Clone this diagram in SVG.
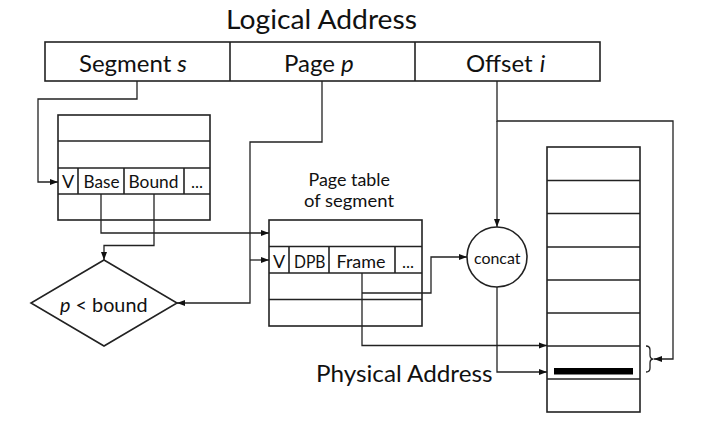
<svg xmlns="http://www.w3.org/2000/svg" width="724" height="431" viewBox="0 0 724 431">
<style>
.box{fill:#fff;stroke:#222;stroke-width:1.6}
.ln{fill:none;stroke:#222;stroke-width:1.6}
.cn{fill:none;stroke:#222;stroke-width:1.3}
.t{font-family:Lato,"Open Sans",sans-serif;fill:#111}
</style>
<defs>
<marker id="ah" viewBox="0 0 8 8" refX="8" refY="4" markerWidth="8" markerHeight="8" markerUnits="userSpaceOnUse" orient="auto">
<path d="M0,1 L8,4 L0,7 Z" fill="#111"/>
</marker>
</defs>
<rect width="724" height="431" fill="#fff"/>
<text class="t" x="226" y="29" font-size="27.5" textLength="191" lengthAdjust="spacingAndGlyphs">Logical Address</text>
<g id="logical-address">
<rect class="box" x="45" y="42" width="555" height="39"/>
<line class="ln" x1="230" y1="42" x2="230" y2="81"/>
<line class="ln" x1="415" y1="42" x2="415" y2="81"/>
<text class="t" x="79" y="72" font-size="24">Segment<tspan dx="6" font-style="italic">s</tspan></text>
<text class="t" x="284" y="72" font-size="24">Page<tspan dx="6" font-style="italic">p</tspan></text>
<text class="t" x="466" y="72" font-size="24">Offset<tspan dx="7" font-style="italic">i</tspan></text>
</g>
<g id="segment-table">
<rect class="box" x="58" y="115" width="152" height="105"/>
<line class="ln" x1="58" y1="141" x2="210" y2="141"/>
<line class="ln" x1="58" y1="168" x2="210" y2="168"/>
<line class="ln" x1="58" y1="194" x2="210" y2="194"/>
<line class="ln" x1="78" y1="168" x2="78" y2="194"/>
<line class="ln" x1="124" y1="168" x2="124" y2="194"/>
<line class="ln" x1="184" y1="168" x2="184" y2="194"/>
<text class="t" x="68" y="188" font-size="18" text-anchor="middle">V</text>
<text class="t" x="83.5" y="188" font-size="18" textLength="36" lengthAdjust="spacingAndGlyphs">Base</text>
<text class="t" x="128.5" y="188" font-size="18" textLength="50" lengthAdjust="spacingAndGlyphs">Bound</text>
<text class="t" x="197" y="188" font-size="17" text-anchor="middle">...</text>
</g>
<g id="page-table">
<text class="t" x="308.5" y="186" font-size="18" textLength="81.5" lengthAdjust="spacingAndGlyphs">Page table</text>
<text class="t" x="304" y="207" font-size="18" textLength="90" lengthAdjust="spacingAndGlyphs">of segment</text>
<rect class="box" x="269" y="220" width="153" height="106"/>
<line class="ln" x1="269" y1="246.5" x2="422" y2="246.5"/>
<line class="ln" x1="269" y1="273" x2="422" y2="273"/>
<line class="ln" x1="269" y1="299.5" x2="422" y2="299.5"/>
<line class="ln" x1="289" y1="246.5" x2="289" y2="273"/>
<line class="ln" x1="329" y1="246.5" x2="329" y2="273"/>
<line class="ln" x1="395" y1="246.5" x2="395" y2="273"/>
<text class="t" x="279" y="268" font-size="18" text-anchor="middle">V</text>
<text class="t" x="294" y="268" font-size="18" textLength="31.5" lengthAdjust="spacingAndGlyphs">DPB</text>
<text class="t" x="336.5" y="268" font-size="18" textLength="49" lengthAdjust="spacingAndGlyphs">Frame</text>
<text class="t" x="408" y="268" font-size="17" text-anchor="middle">...</text>
</g>
<g id="bound-check">
<polygon class="box" points="104,260 177,303 104,346 31,303" stroke-width="1.3"/>
<text class="t" x="60" y="312" font-size="20" textLength="87.5" lengthAdjust="spacingAndGlyphs"><tspan font-style="italic">p</tspan> &lt; bound</text>
</g>
<g id="concat">
<circle class="box" cx="497" cy="257" r="30" stroke-width="1.3"/>
<text class="t" x="474" y="264" font-size="16" textLength="46.5" lengthAdjust="spacingAndGlyphs">concat</text>
</g>
<g id="memory">
<rect class="box" x="547" y="147" width="93" height="265"/>
<line class="ln" x1="547" y1="180.5" x2="640" y2="180.5"/>
<line class="ln" x1="547" y1="213.5" x2="640" y2="213.5"/>
<line class="ln" x1="547" y1="247" x2="640" y2="247"/>
<line class="ln" x1="547" y1="280" x2="640" y2="280"/>
<line class="ln" x1="547" y1="313" x2="640" y2="313"/>
<line class="ln" x1="547" y1="346" x2="640" y2="346"/>
<line class="ln" x1="547" y1="379" x2="640" y2="379"/>
<rect x="554" y="368" width="79" height="6.5" fill="#000"/>
<path class="cn" d="M646,346 q4,0 4,4 v5 q0,4 3.5,4 q-3.5,0 -3.5,4 v5 q0,4 -4,4"/>
</g>
<text class="t" x="316" y="382" font-size="23" textLength="176.5" lengthAdjust="spacingAndGlyphs">Physical Address</text>
<g id="connectors">
<path class="cn" d="M137,81 V99 H38 V182 H58" marker-end="url(#ah)"/>
<path class="cn" d="M322,81 V142 H250 V303 H177" marker-end="url(#ah)"/>
<path class="cn" d="M250,260 H269" marker-end="url(#ah)"/>
<path class="cn" d="M497,81 V121 H673 V359 H654" marker-end="url(#ah)"/>
<path class="cn" d="M497,121 V227" marker-end="url(#ah)"/>
<path class="cn" d="M101,194 V233 H269" marker-end="url(#ah)"/>
<path class="cn" d="M154,194 V245.5 H104 V260" marker-end="url(#ah)"/>
<path class="cn" d="M362,273 V345.5 H547" marker-end="url(#ah)"/>
<path class="cn" d="M362,293 H431 V257 H467" marker-end="url(#ah)"/>
<path class="cn" d="M497,287 V372 H547" marker-end="url(#ah)"/>
</g>
</svg>
